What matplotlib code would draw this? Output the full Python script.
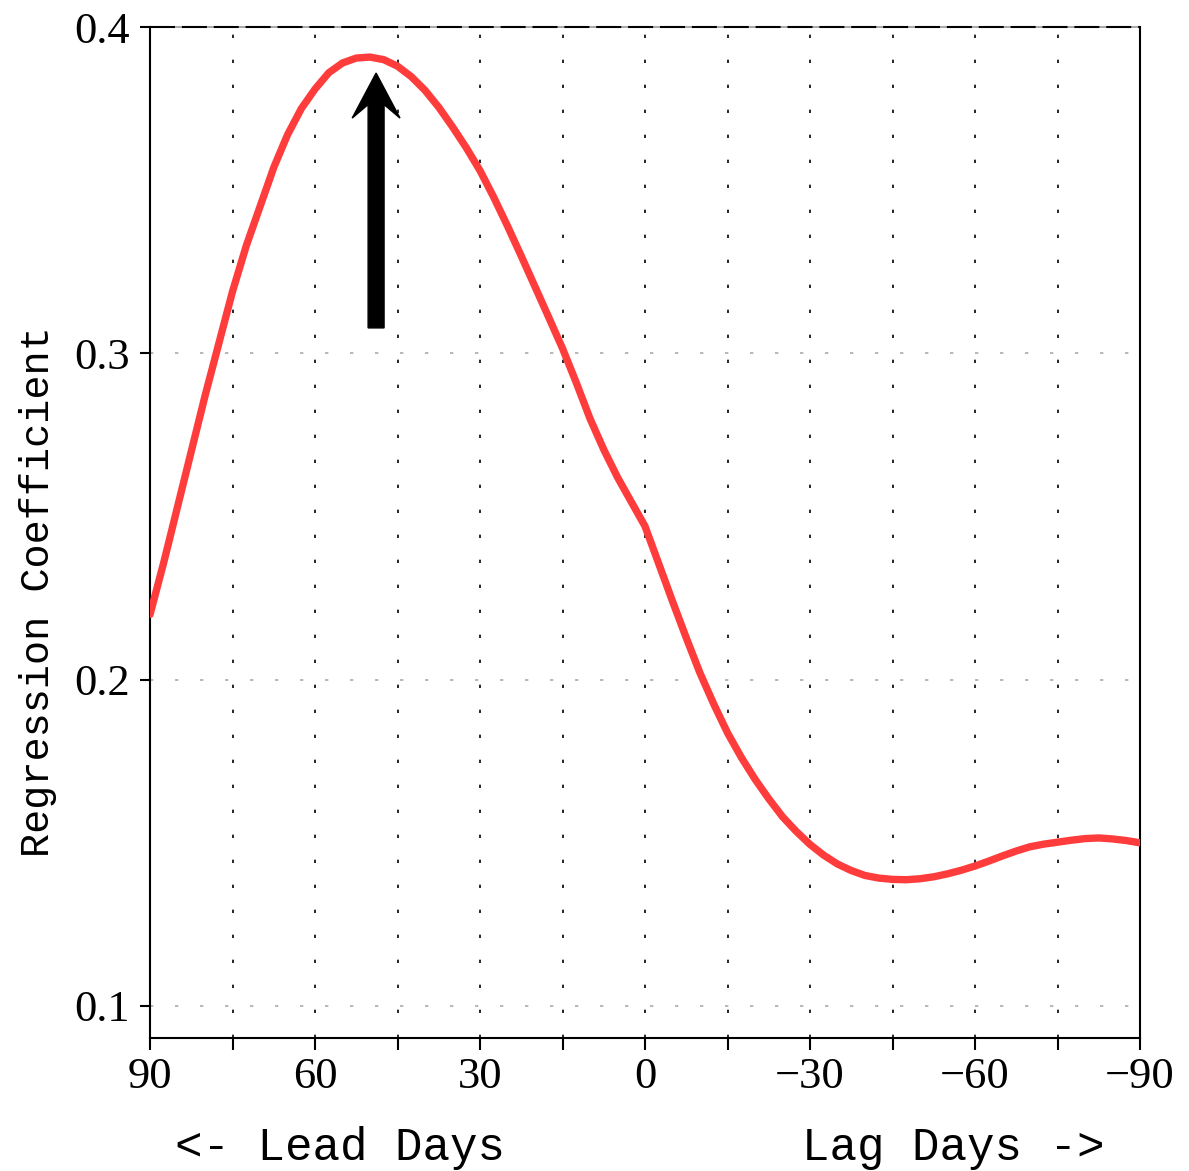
import numpy as np
import matplotlib
matplotlib.use('Agg')
import matplotlib.pyplot as plt

# lead/lag day (positive = lead) and regression coefficient
days = [90, 87.5, 85, 82.5, 80, 77.5, 75, 72.5, 70, 67.5, 65, 62.5, 60, 57.5, 55, 52.5,
        50, 47.5, 45, 42.5, 40, 37.5, 35, 32.5, 30, 27.5, 25, 22.5, 20, 17.5, 15, 12.5,
        10, 7.5, 5, 2.5, 0, -2.5, -5, -7.5, -10, -12.5, -15, -17.5, -20, -22.5, -25,
        -27.5, -30, -32.5, -35, -37.5, -40, -42.5, -45, -47.5, -50, -52.5, -55, -57.5,
        -60, -62.5, -65, -67.5, -70, -72.5, -75, -77.5, -80, -82.5, -85, -87.5, -90]
coef = [0.220, 0.236, 0.253, 0.270, 0.287, 0.303, 0.319, 0.333, 0.345, 0.357, 0.367,
        0.375, 0.381, 0.386, 0.389, 0.3905, 0.3908, 0.3900, 0.388, 0.3848, 0.3806,
        0.3754, 0.3694, 0.3630, 0.356, 0.3478, 0.339, 0.3298, 0.3204, 0.3110, 0.3015,
        0.2910, 0.280, 0.2705, 0.262, 0.2545, 0.247, 0.2355, 0.224, 0.2128, 0.202,
        0.1925, 0.1837, 0.1762, 0.1695, 0.1635, 0.158, 0.1535, 0.1495, 0.1462, 0.1435,
        0.1415, 0.1400, 0.1392, 0.1388, 0.1387, 0.1390, 0.1396, 0.1405, 0.1416, 0.1429,
        0.1444, 0.1460, 0.1475, 0.1488, 0.1496, 0.1502, 0.1508, 0.1513, 0.1515, 0.1512,
        0.1507, 0.1500]

xticks = [90, 75, 60, 45, 30, 15, 0, -15, -30, -45, -60, -75, -90]
xlabels = ['90', '', '60', '', '30', '', '0', '', '\u221230', '', '\u221260', '', '\u221290']
yticks = [0.1, 0.2, 0.3, 0.4]
ylabels = ['0.1', '0.2', '0.3', '0.4']

# arrow marking the peak
arrow_day = 48.9
arrow_y0, arrow_y1 = 0.3078, 0.3859

fig = plt.figure(figsize=(11.89, 11.71), dpi=100)
ax = fig.add_axes([0.1262, 0.1136, 0.8326, 0.8633])

ax.set_xlim(90, -90)
ax.set_ylim(0.0902, 0.4)

# grid lines
for d in xticks[1:-1]:
    ax.axvline(d, color='black', lw=1.2, linestyle=(0, (2, 13)), zorder=1)
for v in yticks[:-1]:
    ax.axhline(v, color='#aaaaaa', lw=1.2, linestyle=(0, (2, 13)), zorder=1)
ax.axhline(0.4, color='#999999', lw=1.2, zorder=2, clip_on=False)
ax.axhline(0.4, color='black', lw=1.5, linestyle=(0, (12, 3.3)), zorder=2, clip_on=False)

ax.plot(days, coef, color='#ff3c3c', lw=5.3, solid_capstyle='round',
        solid_joinstyle='round', zorder=3)

ax.arrow(arrow_day, arrow_y0, 0, arrow_y1 - arrow_y0 - 0.0138, width=2.9,
         head_width=8.7, head_length=0.0138, overhang=0.3, length_includes_head=False,
         color='black', zorder=4)

for s in ['left', 'bottom', 'right']:
    ax.spines[s].set_linewidth(1.5)
ax.spines['top'].set_visible(False)

ax.set_xticks(xticks)
ax.set_xticklabels(xlabels, fontfamily='Liberation Serif', fontsize=32)
ax.set_yticks(yticks)
ax.set_yticklabels(ylabels, fontfamily='Liberation Serif', fontsize=32)
ax.tick_params(axis='x', direction='out', length=8.5, width=1.5, pad=5)
ax.tick_params(axis='y', direction='out', length=7.5, width=1.5, pad=7)

fig.text(175 / 1189, 1 - 1160 / 1171, '<- Lead Days', fontfamily='Liberation Mono',
         fontsize=33, ha='left', va='baseline')
fig.text(1105 / 1189, 1 - 1160 / 1171, 'Lag Days ->', fontfamily='Liberation Mono',
         fontsize=33, ha='right', va='baseline')
fig.text(38 / 1189, 1 - 592 / 1171, 'Regression Coefficient', fontfamily='Liberation Mono',
         fontsize=29, rotation=90, ha='center', va='center')

fig.savefig('out.png', dpi=100)
